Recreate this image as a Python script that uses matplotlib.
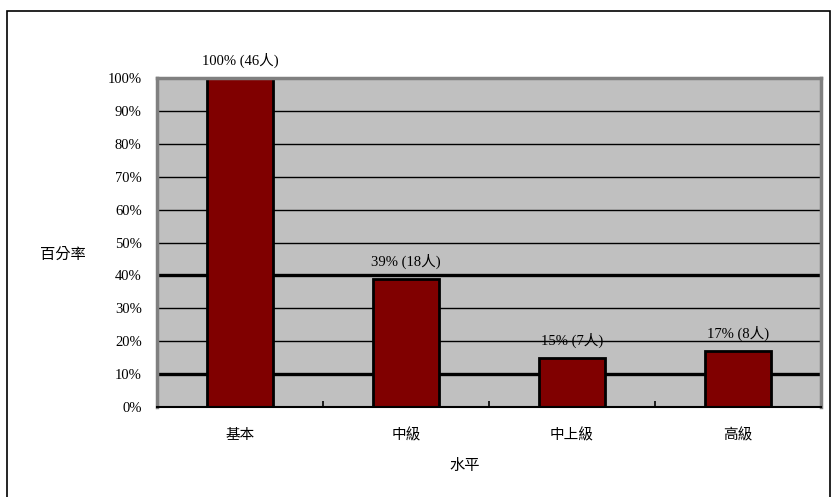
import matplotlib.pyplot as plt
from matplotlib.patches import Rectangle

plt.rcParams['font.family'] = ['Liberation Serif', 'Noto Sans CJK TC']

categories = ['基本', '中級', '中上級', '高級']
percent = [100, 39, 15, 17]
people = [46, 18, 7, 8]
y_ticks = list(range(0, 101, 10))
thick_grid = [10, 40]

fig = plt.figure(figsize=(8.31, 4.97), dpi=100)
# outer chart border
fig.patches.append(Rectangle((7 / 831, -0.01), 823 / 831, 1 - 11 / 497 + 0.01,
                             transform=fig.transFigure, fill=False,
                             edgecolor='black', linewidth=1.2))

ax = fig.add_axes([157 / 831, 1 - 407 / 497, 664 / 831, 329 / 497])
ax.set_facecolor('#C0C0C0')

x = list(range(len(categories)))
for y in y_ticks[1:]:
    lw = 2.4 if y in thick_grid else 1.0
    ax.axhline(y, color='black', linewidth=lw, zorder=1)

bars = ax.bar(x, percent, width=0.4, color='#800000', edgecolor='black',
              linewidth=2, zorder=2)
for b, p, n in zip(bars, percent, people):
    ax.text(b.get_x() + b.get_width() / 2, p + 3, f'{p}% ({n}人)',
            ha='center', va='bottom', fontsize=10.5)

ax.set_xlim(-0.5, len(categories) - 0.5)
ax.set_ylim(0, 100)
ax.set_yticks(y_ticks)
ax.set_yticklabels([f'{v}%' for v in y_ticks], fontsize=10.5)
ax.tick_params(axis='y', length=0, pad=11)

ax.set_xticks([i + 0.5 for i in x[:-1]])
ax.set_xticklabels([])
ax.tick_params(axis='x', direction='in', length=4, width=1.2)
for i, c in enumerate(categories):
    ax.text(i, -8.7, c, ha='center', va='center', fontsize=10.5,
            transform=ax.transData, clip_on=False)

for s in ['left', 'top', 'right']:
    ax.spines[s].set_color('#808080')
    ax.spines[s].set_linewidth(2.5)
ax.spines['bottom'].set_color('black')
ax.spines['bottom'].set_linewidth(1.5)

fig.text(40 / 831, 1 - 255 / 497, '百分率', ha='left', va='center', fontsize=11)
fig.text(465 / 831, 1 - 466 / 497, '水平', ha='center', va='center', fontsize=11)

fig.savefig('out.png', dpi=100)
